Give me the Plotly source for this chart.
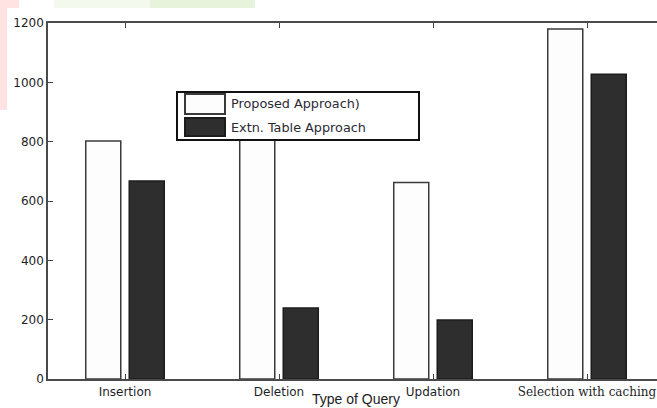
import plotly.graph_objects as go

# Query response values for the two approaches
categories = ["Insertion", "Deletion", "Updation", "Selection with caching"]
proposed = [802, 805, 662, 1180]
extn_table = [667, 239, 199, 1027]
series_names = ["Proposed Approach)", "Extn. Table Approach"]
y_ticks = [0, 200, 400, 600, 800, 1000, 1200]

W, H = 657, 408
ML, MT, MB, MR = 48, 23, 29, 0
PW, PH = W - ML - MR, H - MT - MB


def px_x(p):
    """figure pixel column -> paper x"""
    return (p - ML) / PW


def px_y(p):
    """figure pixel row -> paper y"""
    return (H - MB - p) / PH


positions = list(range(1, len(categories) + 1))
fills = ["#fdfdfd", "#2e2e2e"]
edges = ["#3a3a3a", "#1c1c1c"]

fig = go.Figure()
for name, vals, fc, ec in zip(series_names, [proposed, extn_table], fills, edges):
    fig.add_trace(go.Bar(
        x=positions, y=vals, name=name,
        marker=dict(color=fc, line=dict(color=ec, width=1.5)),
        showlegend=False,
    ))

ticktext = []
for c in categories:
    if c == "Selection with caching":
        ticktext.append('<span style="font-family:DejaVu Serif">%s</span>' % c)
    else:
        ticktext.append(c)

shapes = []
annotations = []

# faint page tint around the figure
shapes.append(dict(type="rect", xref="paper", yref="paper", layer="below",
                   x0=px_x(0), x1=px_x(7), y0=px_y(110), y1=px_y(8),
                   fillcolor="#ffe3e3", line=dict(width=0)))
shapes.append(dict(type="rect", xref="paper", yref="paper", layer="below",
                   x0=px_x(0), x1=px_x(19), y0=px_y(8), y1=px_y(0),
                   fillcolor="#ffe3e3", line=dict(width=0)))
shapes.append(dict(type="rect", xref="paper", yref="paper", layer="below",
                   x0=px_x(54), x1=px_x(150), y0=px_y(8), y1=px_y(0),
                   fillcolor="#f3f9ec", line=dict(width=0)))
shapes.append(dict(type="rect", xref="paper", yref="paper", layer="below",
                   x0=px_x(150), x1=px_x(255), y0=px_y(8), y1=px_y(0),
                   fillcolor="#e8f3dc", line=dict(width=0)))

# legend box with wide swatches
shapes.append(dict(type="rect", xref="paper", yref="paper",
                   x0=px_x(177), x1=px_x(419), y0=px_y(140), y1=px_y(92),
                   fillcolor="white", line=dict(color="#111111", width=2)))
sw_rows = [(94, 114), (118, 136)]
for (top, bot), name, fc, ec in zip(sw_rows, series_names, fills, edges):
    shapes.append(dict(type="rect", xref="paper", yref="paper",
                       x0=px_x(185), x1=px_x(225), y0=px_y(bot), y1=px_y(top),
                       fillcolor=fc, line=dict(color=ec, width=2)))
    annotations.append(dict(xref="paper", yref="paper", x=px_x(229),
                            y=px_y((top + bot) / 2), xanchor="left",
                            yanchor="middle", showarrow=False, text=name,
                            font=dict(family="DejaVu Sans", size=12.8, color="#2a2a34")))

# x axis title, centred on the full axis span 0.5..4.5
annotations.append(dict(xref="x", yref="paper", x=2.5, y=px_y(408),
                        xanchor="center", yanchor="bottom", showarrow=False,
                        borderpad=0,
                        text="Type of Query",
                        font=dict(family="Liberation Sans", size=14, color="#222222")))

fig.update_layout(
    width=W, height=H, autosize=False,
    margin=dict(l=ML, r=MR, t=MT, b=MB, pad=0),
    paper_bgcolor="white", plot_bgcolor="white",
    barmode="group", bargap=0.435, bargroupgap=0.195,
    shapes=shapes, annotations=annotations,
    xaxis=dict(
        range=[0.5, 0.5 + PW / 154.0],
        tickvals=positions, ticktext=ticktext,
        ticks="inside", ticklen=5, tickwidth=1.2, tickcolor="#444444",
        ticklabelstandoff=1,
        showline=True, linecolor="#4a4a4a", linewidth=1.5, mirror="ticks",
        showgrid=False, zeroline=False,
        tickfont=dict(family="DejaVu Sans", size=12, color="#1e1e28"),
    ),
    yaxis=dict(
        range=[0, 1200], tickvals=y_ticks,
        ticks="inside", ticklen=5, tickwidth=1.2, tickcolor="#444444",
        showline=True, linecolor="#4a4a4a", linewidth=1.5,
        showgrid=False, zeroline=False,
        tickfont=dict(family="DejaVu Sans", size=12, color="#1e1e28"),
    ),
)

fig.write_html("out.html")
